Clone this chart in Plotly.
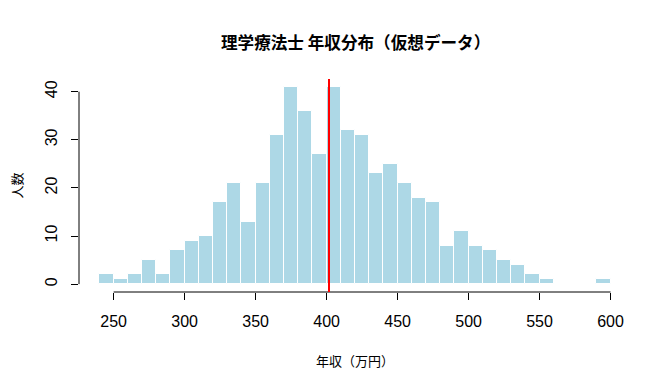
import plotly.graph_objects as go

# Histogram bins (年収, 万円) and counts
bin_starts = [240, 250, 260, 270, 280, 290, 300, 310, 320, 330, 340, 350,
              360, 370, 380, 390, 400, 410, 420, 430, 440, 450, 460, 470,
              480, 490, 500, 510, 520, 530, 540, 550, 560, 570, 580, 590]
counts = [2, 1, 2, 5, 2, 7, 9, 10, 17, 21, 13, 21,
          31, 41, 36, 27, 41, 32, 31, 23, 25, 21, 18, 17,
          8, 11, 8, 7, 5, 4, 2, 1, 0, 0, 0, 1]
bin_width = 10
mean_value = 401.7

x_ticks = [250, 300, 350, 400, 450, 500, 550, 600]
y_ticks = [0, 10, 20, 30, 40]

title_text = "理学療法士 年収分布（仮想データ）"
x_title = "年収（万円）"
y_title = "人数"

centers = [s + bin_width / 2 for s in bin_starts]

NUM_FONT = "Liberation Sans, Arial, sans-serif"
CJK_FONT = "Noto Sans CJK JP, sans-serif"

fig = go.Figure()
fig.add_trace(go.Bar(
    x=centers, y=counts, width=[bin_width] * len(centers),
    marker=dict(color="#ADD8E6", line=dict(color="white", width=1)),
    hoverinfo="x+y", showlegend=False,
))

xmin, xmax = bin_starts[0], bin_starts[-1] + bin_width
xpad = (xmax - xmin) * 0.04
ymax = max(counts)
ypad = ymax * 0.04

# the page body adds an 8px offset, so the figure is 8px smaller
fig.update_layout(
    width=662, height=382,
    margin=dict(l=71, r=39, t=71, b=98, autoexpand=False),
    plot_bgcolor="white", paper_bgcolor="white",
    bargap=0,
    xaxis=dict(range=[xmin - xpad, xmax + xpad], tickvals=x_ticks,
               ticks="outside", ticklen=7, tickwidth=1, tickcolor="black",
               showgrid=False, zeroline=False, showline=False, automargin=False,
               tickfont=dict(family=NUM_FONT, size=16, color="black"),
               ticklabelstandoff=8),
    yaxis=dict(range=[-ypad, ymax + ypad], tickvals=y_ticks,
               ticks="outside", ticklen=7, tickwidth=1, tickcolor="black",
               showgrid=False, zeroline=False, showline=False, tickangle=-90,
               automargin=False,
               tickfont=dict(family=NUM_FONT, size=16, color="black"),
               ticklabelstandoff=8),
    shapes=[
        dict(type="line", xref="x", yref="paper", x0=x_ticks[0], x1=x_ticks[-1],
             y0=0, y1=0, line=dict(color="black", width=1)),
        dict(type="line", xref="paper", yref="y", x0=0, x1=0,
             y0=y_ticks[0], y1=y_ticks[-1], line=dict(color="black", width=1)),
        dict(type="line", xref="x", yref="paper", x0=mean_value, x1=mean_value,
             y0=0, y1=1, line=dict(color="red", width=2)),
    ],
    annotations=[
        dict(text="<b>" + title_text + "</b>", xref="paper", yref="paper",
             x=0.5, y=1, yshift=37, xanchor="center", yanchor="middle",
             showarrow=False, font=dict(family=CJK_FONT, size=16.6, color="black")),
        dict(text=x_title, xref="paper", yref="paper", x=0.5, y=0, yshift=-68,
             xanchor="center", yanchor="middle", showarrow=False,
             font=dict(family=CJK_FONT, size=13, color="black")),
        dict(text=y_title, xref="paper", yref="paper", x=0, xshift=-63, y=0.5,
             xanchor="center", yanchor="middle", textangle=-90, showarrow=False,
             font=dict(family=CJK_FONT, size=13, color="black")),
    ],
)

fig.write_html("out.html")
